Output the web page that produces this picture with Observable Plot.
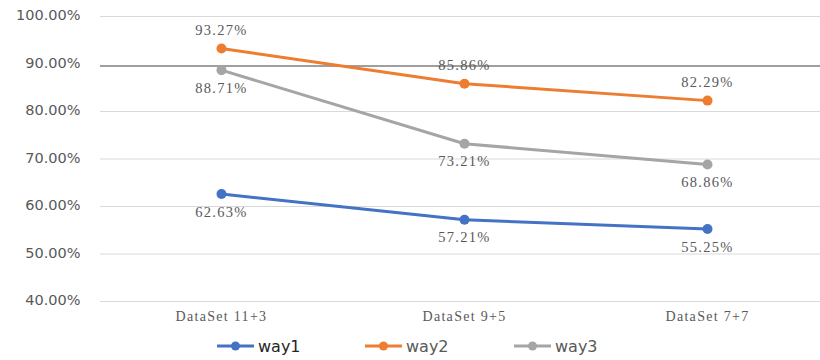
<!DOCTYPE html>
<html>
<head>
<meta charset="utf-8">
<script src="https://cdn.jsdelivr.net/npm/d3@7"></script>
<script src="https://cdn.jsdelivr.net/npm/@observablehq/plot@0.6"></script>
<style>
  html, body { margin: 0; padding: 0; background: #fff; }
  #wrap { position: relative; width: 820px; height: 360px; overflow: hidden; }
  .lbl text, text.lbl { letter-spacing: 1.3px; }
  .xax text { letter-spacing: 1.3px; }
  #legend { position: absolute; left: 0; top: 330px; width: 820px; height: 30px; }
  .item { position: absolute; top: 4px; height: 24px; display: flex; align-items: center;
          font-family: "DejaVu Sans", sans-serif; font-size: 16px; }
  .item svg { margin-right: 4px; }
</style>
</head>
<body>
<div id="wrap"><div id="chart"></div><div id="legend"></div></div>
<script>
const categories = ["DataSet 11+3", "DataSet 9+5", "DataSet 7+7"];
const seriesNames = ["way1", "way2", "way3"];
const way1 = [62.63, 57.21, 55.25];
const way2 = [93.27, 85.86, 82.29];
const way3 = [88.71, 73.21, 68.86];
const yTicks = [40, 50, 60, 70, 80, 90, 100];
const colors = ["#4472C4", "#ED7D31", "#A5A5A5"];

const seriesValues = [way1, way2, way3];
const data = [];
seriesNames.forEach((s, i) => categories.forEach((c, j) => data.push({series: s, cat: c, value: seriesValues[i][j]})));

const fmt = d => d.toFixed(2) + "%";
const above = d => d.series === "way2";

const chart = Plot.plot({
  width: 820,
  height: 330,
  marginTop: 16,
  marginBottom: 29,
  marginLeft: 100,
  marginRight: 0,
  x: {type: "point", domain: categories, range: [220, 707], padding: 0},
  y: {domain: [40, 100]},
  color: {domain: seriesNames, range: colors},
  marks: [
    Plot.ruleY(yTicks.filter(d => d !== 90), {stroke: "#d9d9d9", strokeWidth: 1.2}),
    Plot.ruleY(yTicks.filter(d => d === 90), {stroke: "#7f7f7f", strokeWidth: 1.5, dy: 2}),
    Plot.axisY({ticks: yTicks, tickSize: 0, tickPadding: 20, tickFormat: fmt, label: null,
      fontFamily: "DejaVu Sans, sans-serif", fontSize: 14.5, fill: "#595959", dy: -1}),
    Plot.axisX({tickSize: 0, tickPadding: 10, label: null, className: "xax",
      fontFamily: "Liberation Serif, serif", fontSize: 14, fill: "#595959"}),
    Plot.line(data, {x: "cat", y: "value", z: "series", stroke: "series", strokeWidth: 3}),
    Plot.dot(data, {x: "cat", y: "value", fill: "series", r: 5}),
    Plot.text(data.filter(above), {x: "cat", y: "value", text: d => fmt(d.value), dy: -18,
      className: "lbl", fontFamily: "Liberation Serif, serif", fontSize: 14.5, fill: "#595959"}),
    Plot.text(data.filter(d => !above(d)), {x: "cat", y: "value", text: d => fmt(d.value), dy: 18,
      className: "lbl", fontFamily: "Liberation Serif, serif", fontSize: 14.5, fill: "#595959"})
  ]
});
document.getElementById("chart").appendChild(chart);

// legend
const legendLeft = [217, 365, 514];
const legendText = ["#262626", "#595959", "#595959"];
const legend = document.getElementById("legend");
seriesNames.forEach((s, i) => {
  const item = document.createElement("div");
  item.className = "item";
  item.style.left = legendLeft[i] + "px";
  item.style.color = legendText[i];
  item.innerHTML = `<svg width="37" height="12"><line x1="0" x2="37" y1="6" y2="6" stroke="${colors[i]}" stroke-width="3"/><circle cx="18.5" cy="6" r="4.5" fill="${colors[i]}"/></svg><span>${s}</span>`;
  legend.appendChild(item);
});
</script>
</body>
</html>
